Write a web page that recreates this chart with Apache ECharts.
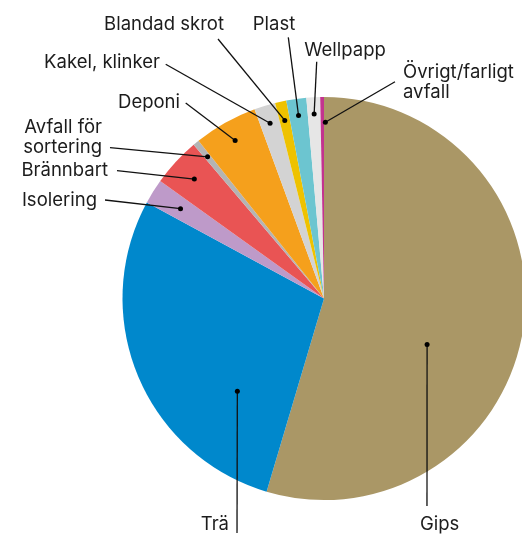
<!DOCTYPE html>
<html>
<head>
<meta charset="utf-8">
<script src="https://cdn.jsdelivr.net/npm/echarts@6/dist/echarts.min.js"></script>
<style>
  html, body { margin: 0; padding: 0; background: #fff; }
  #chart { width: 522px; height: 538px; }
</style>
</head>
<body>
<div id="chart"></div>
<script>
// andelar i procent, medurs från klockan tolv
const categories = ['Gips', 'Trä', 'Isolering', 'Brännbart', 'Avfall för\nsortering', 'Deponi',
  'Kakel, klinker', 'Blandad skrot', 'Plast', 'Wellpapp', 'Övrigt/farligt\navfall']
const values = [54.6, 28.3, 2.0, 3.9, 0.5, 5.1, 1.7, 0.9, 1.6, 1.1, 0.3]
const colors = ['#aa9766', '#0088cc', '#be9ac9', '#e95454', '#b4b4b4', '#f5a01c',
  '#d3d3d3', '#eec200', '#6cc5d0', '#e6e6e6', '#c3338f']

const CX = 324, CY = 298.5, R = 201.5

// [dot angle share in slice, dot radius frac, label x, label y, align, line end x, line end y]
const place = [
  [0.58, 0.56, 420, 524, 'left', 427, 506],
  [0.26, 0.63, 229, 524, 'right', 237, 533],
  [0.5, 0.84, 97, 200, 'right', 105, 200],
  [0.5, 0.875, 108, 170, 'right', 117, 170.7],
  [0.5, 0.91, 102, 137, 'right', 110, 147.7],
  [0.5, 0.9, 180, 102, 'right', 185.7, 103],
  [0.5, 0.91, 160, 62, 'right', 165.7, 64.3],
  [0.5, 0.905, 164, 24, 'center', 218, 39],
  [0.5, 0.917, 274, 24, 'center', 288.3, 37.3],
  [0.5, 0.917, 345, 50, 'center', 316.7, 61.7],
  [1.4, 0.875, 403, 82, 'left', 395, 81.7]
]

const total = values.reduce((a, b) => a + b, 0)
const starts = []
let acc = 0
values.forEach(v => { starts.push(acc); acc += v })

// dot positions as [radius, angle] in the polar system laid over the pie
const dotData = values.map((v, i) => [place[i][1], (starts[i] + place[i][0] * v) / total * 100])

const chart = echarts.init(document.getElementById('chart'))

const option = {
  animation: false,
  polar: { center: [CX, CY], radius: R },
  angleAxis: { type: 'value', min: 0, max: 100, startAngle: 90, clockwise: true, show: false },
  radiusAxis: { type: 'value', min: 0, max: 1, show: false },
  series: [
    {
      type: 'pie',
      center: [CX, CY],
      radius: R,
      startAngle: 90,
      clockwise: true,
      avoidLabelOverlap: false,
      silent: true,
      data: categories.map((name, i) => ({ name, value: values[i], itemStyle: { color: colors[i] } })),
      label: {
        show: true,
        position: 'outside',
        formatter: '{b}',
        color: '#1c1c1c',
        fontFamily: 'Inter',
        fontSize: 18.5,
        lineHeight: 20
      },
      labelLine: { show: false },
      labelLayout: params => {
        const p = place[params.dataIndex]
        return { x: p[2], y: p[3], align: p[4], verticalAlign: 'middle' }
      }
    },
    {
      // leader lines with a dot inside each slice
      type: 'custom',
      coordinateSystem: 'polar',
      silent: true,
      z: 10,
      data: dotData,
      renderItem: (params, api) => {
        const p = place[params.dataIndex]
        const pt = api.coord([api.value(0), api.value(1)])
        return {
          type: 'group',
          children: [
            {
              type: 'polyline',
              shape: { points: [pt, [p[5], p[6]]] },
              style: { stroke: '#111', lineWidth: 1.3, fill: null }
            },
            {
              type: 'circle',
              shape: { cx: pt[0], cy: pt[1], r: 2.5 },
              style: { fill: '#000' }
            }
          ]
        }
      }
    }
  ]
}
chart.setOption(option)
</script>
</body>
</html>
